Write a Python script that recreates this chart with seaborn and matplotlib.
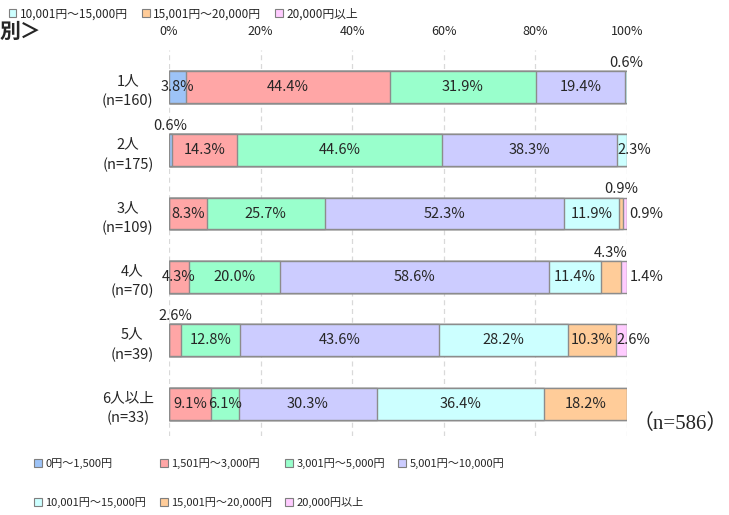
import numpy as np
import pandas as pd
import matplotlib
matplotlib.use('Agg')
import matplotlib.pyplot as plt
from matplotlib.patches import Patch
import seaborn as sns

categories = ['1人\n(n=160)', '2人\n(n=175)', '3人\n(n=109)', '4人\n(n=70)',
              '5人\n(n=39)', '6人以上\n(n=33)']
series_names = ['0円～1,500円', '1,501円～3,000円', '3,001円～5,000円',
                '5,001円～10,000円', '10,001円～15,000円', '15,001円～20,000円',
                '20,000円以上']
values = [
    [3.8, 44.4, 31.9, 19.4, 0.6, 0.0, 0.0],
    [0.6, 14.3, 44.6, 38.3, 2.3, 0.0, 0.0],
    [0.0, 8.3, 25.7, 52.3, 11.9, 0.9, 0.9],
    [0.0, 4.3, 20.0, 58.6, 11.4, 4.3, 1.4],
    [0.0, 2.6, 12.8, 43.6, 28.2, 10.3, 2.6],
    [0.0, 9.1, 6.1, 30.3, 36.4, 18.2, 0.0],
]
colors = ['#9DC3F7', '#FFA6A6', '#99FFCC', '#CCCCFF', '#CCFFFF', '#FFCC99', '#FFCCFF']
# where small labels sit (row, series) -> mode
label_mode = {(0, 4): 'above', (1, 0): 'above', (1, 4): 'start',
              (2, 5): 'above', (2, 6): 'right', (3, 5): 'above',
              (3, 6): 'right', (4, 1): 'above', (4, 6): 'start'}

sns.set_style('white')
plt.rcParams['font.family'] = ['Noto Sans CJK JP', 'DejaVu Sans']

df = pd.DataFrame(values, columns=series_names)
df['cat'] = categories
cum = df[series_names].cumsum(axis=1)

fig = plt.figure(figsize=(7.29, 5.15), dpi=100)
ax = fig.add_axes([169 / 729, 1 - 436 / 515, 458 / 729, 386 / 515])

edge = '#8C8C8C'
# overlay cumulative bars from the longest down
for i in range(len(series_names) - 1, -1, -1):
    sns.barplot(x=cum[series_names[i]], y=df['cat'], orient='h', color=colors[i],
                width=0.5, edgecolor=edge, linewidth=1.0, saturation=1, ax=ax)

ax.set_xlim(0, 100)
ax.set_ylim(5.51, -0.58)
ax.xaxis.tick_top()
ax.set_xticks([0, 20, 40, 60, 80, 100])
ax.set_xticklabels(['0%', '20%', '40%', '60%', '80%', '100%'], fontsize=9)
ax.tick_params(axis='x', length=0, pad=8.5)
ax.tick_params(axis='y', length=0, pad=11)
for t in ax.get_yticklabels():
    t.set_multialignment('center')
    t.set_fontsize(10.5)
    t.set_linespacing(1.5)
ax.set_xlabel('')
ax.set_ylabel('')
ax.grid(axis='x', color='#D9D9D9', linestyle=(0, (4, 3)), linewidth=0.9)
ax.set_axisbelow(True)
for s in ax.spines.values():
    s.set_visible(False)

# data labels
fs = 10.5
for r in range(len(categories)):
    left = 0.0
    for i, name in enumerate(series_names):
        v = values[r][i]
        if v > 0:
            txt = f'{v:.1f}%'
            mode = label_mode.get((r, i), 'center')
            if mode == 'center':
                ax.text(left + v / 2, r, txt, ha='center', va='center', fontsize=fs)
            elif mode == 'above':
                ax.text(left + v / 2, r - 0.27, txt, ha='center', va='bottom', fontsize=fs)
            elif mode == 'start':
                ax.text(left + 0.2, r, txt, ha='left', va='center', fontsize=fs)
            else:
                ax.text(left + v + 0.6, r, txt, ha='left', va='center', fontsize=fs)
        left += v

handles = [Patch(facecolor=c, edgecolor='#7F7F7F', linewidth=0.8) for c in colors]
order = [0, 4, 1, 5, 2, 6, 3]  # legend fills by column, reference reads by row
fig.legend([handles[k] for k in order], [series_names[k] for k in order],
           loc='center left', bbox_to_anchor=(30 / 729, 1 - 483 / 515),
           ncol=4, frameon=False, fontsize=8, handlelength=0.7, handleheight=0.7,
           handletextpad=0.3, columnspacing=1.2, labelspacing=2.5, borderaxespad=0)

# cropped pieces at the top of the original image
fig.legend(handles[4:], series_names[4:], loc='center left', bbox_to_anchor=(4 / 729, 1 - 14 / 515),
           ncol=3, frameon=False, fontsize=8.5, handlelength=0.65, handleheight=0.65,
           handletextpad=0.3, columnspacing=1.2, borderaxespad=0)
fig.text(0, 1 - 31 / 515, '別＞', fontsize=15, fontweight='bold', ha='left', va='center')

fig.text(633 / 729, 1 - 424 / 515, '（n=586）', fontsize=15,
         family=['Liberation Serif', 'Noto Sans CJK JP'], ha='left', va='center')

fig.savefig('out.png', dpi=100)
